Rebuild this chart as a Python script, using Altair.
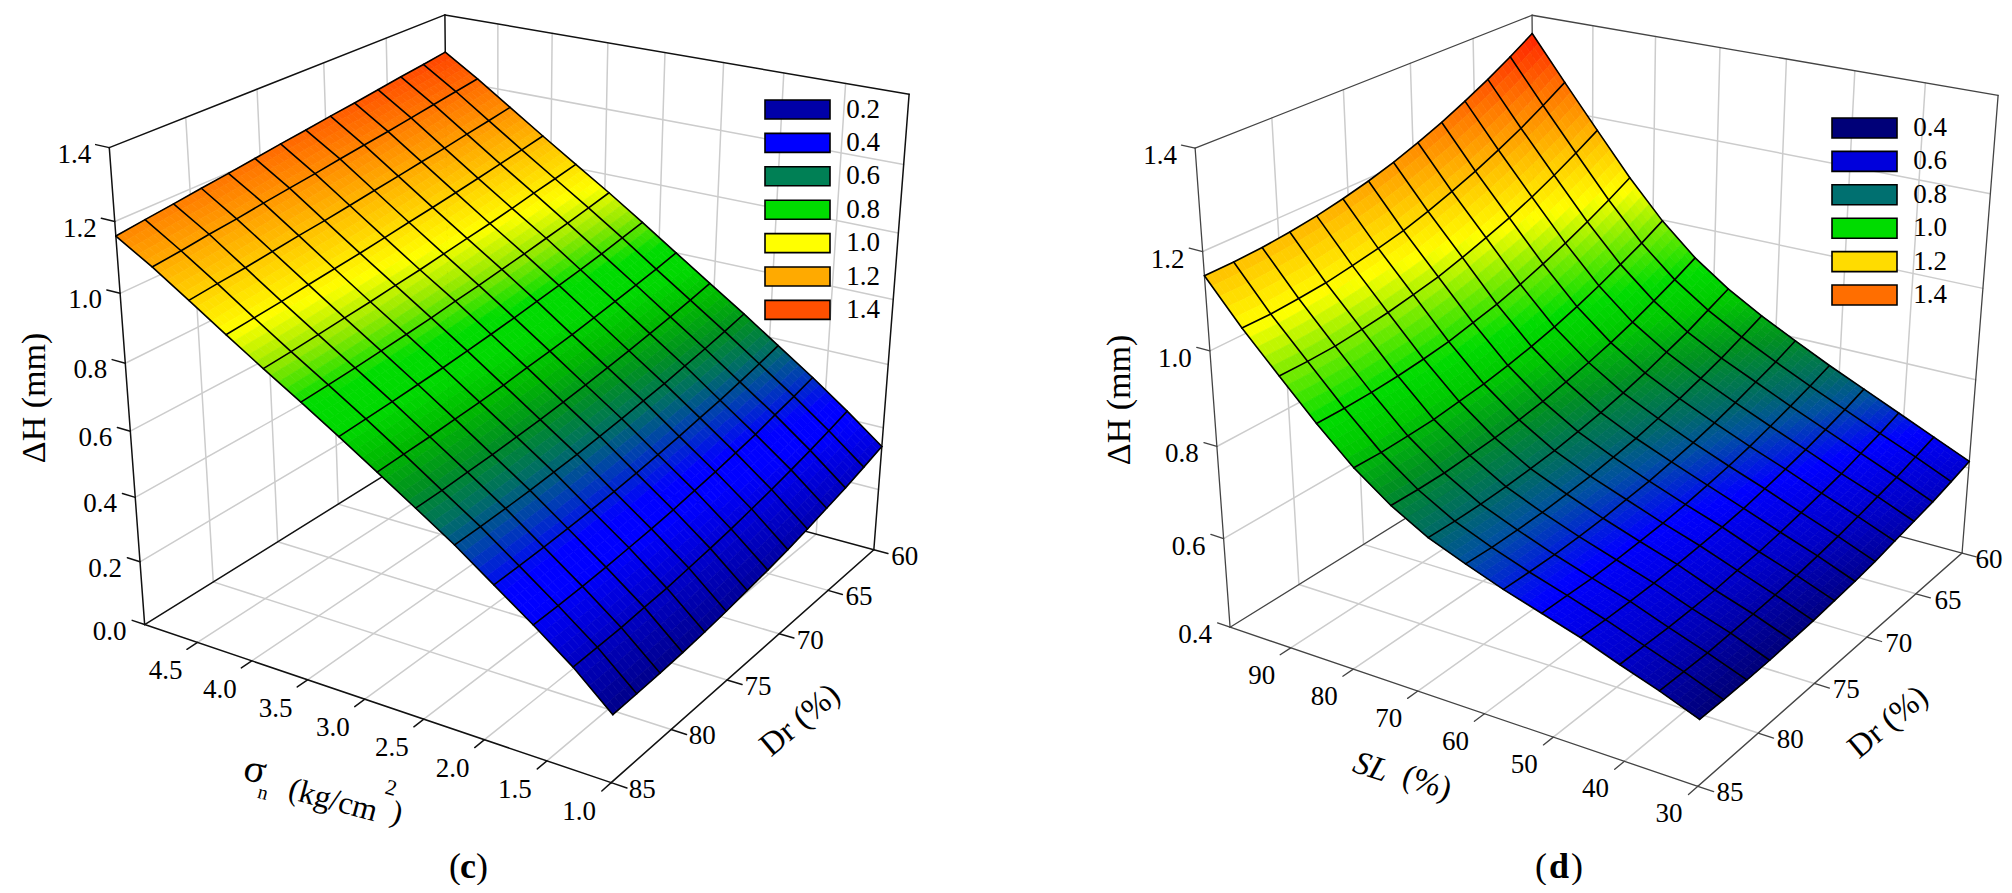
import numpy as np
import altair as alt

# ---------- chart values ----------
SIGMA_TICKS = [4.5, 4.0, 3.5, 3.0, 2.5, 2.0, 1.5, 1.0]
SL_TICKS = [90, 80, 70, 60, 50, 40, 30]
DR_TICKS = [85, 80, 75, 70, 65, 60]
Z_TICKS_C = [0.0, 0.2, 0.4, 0.6, 0.8, 1.0, 1.2, 1.4]
Z_TICKS_D = [0.4, 0.6, 0.8, 1.0, 1.2, 1.4]
LEGEND_C = ["0.2", "0.4", "0.6", "0.8", "1.0", "1.2", "1.4"]
LEGEND_C_COL = ["#0000A8", "#0000FF", "#008055", "#00DC00", "#FFFF00", "#FFAA00", "#FF5000"]
LEGEND_D = ["0.4", "0.6", "0.8", "1.0", "1.2", "1.4"]
LEGEND_D_COL = ["#000078", "#0000DC", "#007070", "#00DC00", "#FFDC00", "#FF6E00"]

# Delta H at the mesh nodes; rows Dr 60 -> 85, columns sigma 5 -> 1
Z_C = [
 [1.285,1.220,1.150,1.080,1.012,.944,.873,.800,.727,.655,.580,.505,.425,.340],
 [1.275,1.210,1.139,1.069,1.000,.931,.860,.786,.713,.640,.564,.488,.407,.320],
 [1.266,1.200,1.129,1.058,.989,.919,.847,.774,.700,.626,.549,.473,.390,.301],
 [1.256,1.190,1.118,1.047,.977,.908,.835,.762,.688,.614,.535,.457,.375,.285],
 [1.246,1.180,1.109,1.037,.966,.897,.825,.751,.676,.602,.524,.445,.361,.269],
 [1.237,1.171,1.099,1.027,.957,.887,.815,.740,.666,.592,.512,.433,.349,.255],
 [1.227,1.162,1.090,1.018,.947,.877,.805,.731,.656,.582,.502,.423,.337,.243],
 [1.218,1.152,1.080,1.008,.937,.869,.796,.723,.648,.574,.493,.413,.328,.233],
 [1.208,1.143,1.071,.999,.929,.859,.788,.714,.640,.566,.485,.405,.320,.223],
 [1.198,1.134,1.063,.991,.920,.851,.780,.707,.634,.560,.479,.399,.312,.215],
 [1.189,1.124,1.054,.983,.913,.844,.774,.702,.628,.554,.474,.393,.308,.209],
 [1.179,1.116,1.045,.974,.905,.837,.768,.696,.624,.550,.470,.389,.303,.205],
 [1.170,1.106,1.038,.967,.898,.831,.763,.692,.619,.547,.467,.386,.301,.202],
 [1.160,1.098,1.030,.960,.892,.826,.758,.688,.617,.545,.465,.385,.300,.200],
]
# rows Dr 60 -> 85, columns SL 100 -> 30
Z_D = [
 [1.360,1.265,1.172,1.080,.998,.930,.876,.832,.793,.755,.720,.685,.650,.615],
 [1.329,1.235,1.144,1.054,.973,.907,.855,.812,.774,.738,.704,.670,.637,.602],
 [1.300,1.207,1.118,1.030,.951,.886,.834,.793,.758,.723,.690,.657,.624,.590],
 [1.274,1.182,1.094,1.008,.930,.866,.817,.777,.742,.709,.677,.644,.614,.581],
 [1.250,1.159,1.073,.988,.911,.849,.800,.762,.728,.696,.666,.634,.604,.572],
 [1.229,1.139,1.055,.970,.894,.834,.786,.749,.716,.685,.656,.625,.595,.563],
 [1.210,1.121,1.038,.954,.880,.821,.773,.737,.706,.676,.647,.617,.588,.556],
 [1.194,1.105,1.023,.942,.868,.809,.763,.728,.697,.668,.641,.610,.582,.551],
 [1.181,1.093,1.012,.930,.858,.800,.754,.720,.691,.662,.636,.606,.577,.546],
 [1.170,1.083,1.002,.922,.851,.793,.748,.715,.685,.658,.632,.601,.574,.543],
 [1.162,1.074,.995,.916,.844,.788,.743,.710,.681,.655,.629,.599,.572,.540],
 [1.156,1.069,.989,.912,.841,.784,.740,.708,.679,.653,.628,.598,.570,.539],
 [1.153,1.065,.987,.910,.839,.783,.739,.707,.679,.654,.628,.599,.571,.539],
 [1.152,1.065,.987,.910,.840,.784,.740,.709,.680,.655,.630,.600,.572,.540],
]
RAMP_C = [(.10,"#000060"),(.20,"#000088"),(.30,"#0000C0"),(.40,"#0000FF"),(.45,"#0000FF"),(.52,"#0040B0"),
          (.58,"#007060"),(.64,"#009020"),(.70,"#00B800"),(.76,"#00D800"),(.82,"#00DC00"),(.89,"#90E800"),
          (.96,"#FFFF00"),(1.03,"#FFD400"),(1.16,"#FF8800"),(1.29,"#FF4000")]
RAMP_D = [(.50,"#000060"),(.54,"#000078"),(.60,"#0000C8"),(.66,"#0000FF"),(.71,"#0050A0"),(.74,"#006868"),
          (.80,"#009020"),(.86,"#00C800"),(.91,"#00DC00"),(.99,"#80EC00"),(1.06,"#FFFF00"),(1.14,"#FFC800"),
          (1.25,"#FF7800"),(1.36,"#FF2000")]

# ---------- layout ----------
PAGE = 8
W, H = 1996, 877
SUB = 5
# box corners in page pixels: (u, v, w) -> (x, y); u along first axis, v along Dr, w up
BOX_C = {(0,1,0):(146,623),(0,1,1):(108,148),(0,0,0):(447,437),(0,0,1):(447,14),
         (1,0,0):(875,548),(1,0,1):(908,95),(1,1,0):(611,784)}
BOX_D = {(0,1,0):(1231,625),(0,1,1):(1194,149),(0,0,0):(1534,440),(0,0,1):(1534,14),
         (1,0,0):(1963,551),(1,0,1):(1997,96),(1,1,0):(1698,788)}


def camera(box):
    rows = []
    for (u, v, w), (x, y) in box.items():
        rows.append([u, v, w, 1, 0, 0, 0, 0, -x*u, -x*v, -x*w, -x])
        rows.append([0, 0, 0, 0, u, v, w, 1, -y*u, -y*v, -y*w, -y])
    return np.linalg.svd(np.array(rows, float))[2][-1].reshape(3, 4)


def proj(M, u, v, w):
    p = M @ np.array([u, v, w, 1.0])
    return [round(float(p[0]/p[2]) - PAGE, 2), round(float(p[1]/p[2]) - PAGE, 2)]


def ramp_color(ramp, z):
    xs = [s[0] for s in ramp]
    ch = []
    for k in (1, 3, 5):
        ch.append(np.interp(z, xs, [int(s[1][k:k+2], 16) for s in ramp]))
    return "#%02x%02x%02x" % tuple(int(round(c)) for c in ch)


def line(pts, c, w):
    return {"type": "Feature", "geometry": {"type": "LineString", "coordinates": pts}, "c": c, "w": w}


polys = [{"type": "Feature", "c": "transparent", "geometry": {"type": "Polygon",
          "coordinates": [[[0, 0], [W, 0], [W, H], [0, H], [0, 0]]]}}]
grid_lines, mesh_lines, rects, ticks, labels, italics, bolds = [], [], [], [], [], [], []


def panel(box, hi, lo, xticks, zlo, zticks, Z, ramp, frame_col, frame_w,
          xoff, droff, zoff):
    M = camera(box)
    Z = np.array(Z)
    fw = lambda z: (z - zlo) / (1.4 - zlo)
    fu = lambda s: (hi - s) / (hi - lo)
    fv = lambda d: (d - 60) / 25.0
    gray, gw = "#cccccc", 1.5
    # walls and floor
    for s in xticks:
        u = fu(s)
        if u < 1:
            grid_lines.append(line([proj(M, u, 0, 0), proj(M, u, 0, 1)], gray, gw))
        grid_lines.append(line([proj(M, u, 0, 0), proj(M, u, 1, 0)], gray, gw))
    for d in DR_TICKS:
        v = fv(d)
        if 0 < v < 1:
            grid_lines.append(line([proj(M, 0, v, 0), proj(M, 0, v, 1)], gray, gw))
            grid_lines.append(line([proj(M, 0, v, 0), proj(M, 1, v, 0)], gray, gw))
    for z in zticks[1:-1]:
        w = fw(z)
        grid_lines.append(line([proj(M, 0, 1, w), proj(M, 0, 0, w), proj(M, 1, 0, w)], gray, gw))
    # frame
    for a, b in [((0,1,0),(0,1,1)), ((0,1,1),(0,0,1)), ((0,0,1),(1,0,1)), ((1,0,1),(1,0,0)), ((0,0,1),(0,0,0)),
                 ((0,1,0),(0,0,0)), ((0,0,0),(1,0,0)), ((0,1,0),(1,1,0)), ((1,1,0),(1,0,0))]:
        grid_lines.append(line([proj(M, *a), proj(M, *b)], frame_col, frame_w))
    # ticks and tick labels
    for s in xticks:
        u = fu(s)
        grid_lines.append(line([proj(M, u, 1, 0), proj(M, u, 1.03, 0)], frame_col, frame_w))
        x, y = proj(M, u, 1, 0)
        ticks.append({"x": x + xoff[0], "y": y + xoff[1], "t": f"{s:.1f}" if hi < 10 else str(s)})
    for d in DR_TICKS:
        v = fv(d)
        grid_lines.append(line([proj(M, 1, v, 0), proj(M, 1.03, v, 0)], frame_col, frame_w))
        x, y = proj(M, 1, v, 0)
        ticks.append({"x": min(x + droff[0], W - 15), "y": y + droff[1], "t": str(d)})
    for z in zticks:
        w = fw(z)
        grid_lines.append(line([proj(M, 0, 1, w), proj(M, -.03, 1, w)], frame_col, frame_w))
        x, y = proj(M, 0, 1, w)
        ticks.append({"x": x + zoff[0], "y": y + zoff[1], "t": f"{z:.1f}"})
    # surface
    n = Z.shape[0] - 1
    for i in range(n):
        for j in range(n):
            for a in range(SUB):
                for b in range(SUB):
                    corners = []
                    zs = []
                    for da, db in [(0,0),(0,1),(1,1),(1,0)]:
                        p, q = (a+da)/SUB, (b+db)/SUB
                        z = (Z[i,j]*(1-p)*(1-q) + Z[i,j+1]*(1-p)*q + Z[i+1,j]*p*(1-q) + Z[i+1,j+1]*p*q)
                        zs.append(z)
                        corners.append(proj(M, (j+q)/n, (i+p)/n, fw(z)))
                    corners.append(corners[0])
                    polys.append({"type": "Feature", "c": ramp_color(ramp, float(np.mean(zs))),
                                  "geometry": {"type": "Polygon", "coordinates": [corners]}})
    for i in range(n+1):
        mesh_lines.append(line([proj(M, j/n, i/n, fw(Z[i,j])) for j in range(n+1)], "#000000", 1.6))
        mesh_lines.append(line([proj(M, i/n, k/n, fw(Z[k,i])) for k in range(n+1)], "#000000", 1.6))


panel(BOX_C, 5.0, 1.0, SIGMA_TICKS, 0.0, Z_TICKS_C, Z_C, RAMP_C, "#111111", 1.5, (-32, 29), (31, 7), (-35, 7))
panel(BOX_D, 100, 30, SL_TICKS, 0.4, Z_TICKS_D, Z_D, RAMP_D, "#444444", 1.3, (-29, 28), (32, 7), (-35, 8))

# legends
for names, cols, x0, y0, step, bh, lx in [(LEGEND_C, LEGEND_C_COL, 765, 100, 33.4, 19, 846),
                                          (LEGEND_D, LEGEND_D_COL, 1832, 118, 33.4, 20, 1913)]:
    for k, (nm, cl) in enumerate(zip(names, cols)):
        y = y0 + k*step
        rects.append({"x": x0-PAGE, "x2": x0+65-PAGE, "y": y-PAGE, "y2": y+bh-PAGE, "c": cl})
        ticks.append({"x": lx+17-PAGE, "y": y+bh/2-PAGE, "t": nm})

# axis titles
for x, y, t, a, s in [(35, 398, "\u0394H (mm)", 270, 34), (1120, 400, "\u0394H (mm)", 270, 34),
                      (800, 720, "Dr (%)", 320, 33), (1888, 722, "Dr (%)", 320, 33),
                      (255, 770, "\u03c3", 15, 40), (263, 793, "n", 15, 20), (333, 800, "(kg/cm", 15, 32),
                      (391, 788, "2", 15, 22), (397, 813, ")", 15, 32),
                      (1427, 783, "(%)", 18, 33)]:
    labels.append({"x": x-PAGE, "y": y-PAGE, "t": t, "a": a, "s": s})
italics.append({"x": 1371-PAGE, "y": 767-PAGE, "t": "SL", "a": 18, "s": 33})
for x, t in [(455, "("), (482, ")"), (1541, "("), (1577, ")")]:
    labels.append({"x": x-PAGE, "y": 867-PAGE, "t": t, "a": 0, "s": 36})
for x, t in [(468, "c"), (1559, "d")]:
    bolds.append({"x": x-PAGE, "y": 867-PAGE, "t": t, "a": 0, "s": 36})

PROJ = dict(type="identity", scale=1, translate=[0, 0])
X = alt.X("x:Q", scale=None, axis=None)
Y = alt.Y("y:Q", scale=None, axis=None)


def geo_lines(data):
    return (alt.Chart(alt.Data(values=data)).mark_geoshape(filled=False, strokeCap="round")
            .encode(stroke=alt.Stroke("c:N", scale=None), strokeWidth=alt.StrokeWidth("w:Q", scale=None))
            .project(**PROJ))


surface = (alt.Chart(alt.Data(values=polys)).mark_geoshape(strokeWidth=0.7)
           .encode(fill=alt.Fill("c:N", scale=None), stroke=alt.Stroke("c:N", scale=None))
           .project(**PROJ))
box_layer = (alt.Chart(alt.Data(values=rects)).mark_rect(stroke="#000000", strokeWidth=1.6)
             .encode(x=X, x2="x2:Q", y=Y, y2="y2:Q", fill=alt.Fill("c:N", scale=None)))


def text_layer(data, **kw):
    return (alt.Chart(alt.Data(values=data))
            .mark_text(font="Liberation Serif", color="#000000", align="center", baseline="middle", **kw)
            .encode(x=X, y=Y, text="t:N", angle=alt.Angle("a:Q", scale=None), size=alt.Size("s:Q", scale=None)))


tick_layer = (alt.Chart(alt.Data(values=ticks))
              .mark_text(font="Liberation Serif", fontSize=27, color="#000000", align="center", baseline="middle")
              .encode(x=X, y=Y, text="t:N"))

chart = alt.layer(
    geo_lines(grid_lines), surface, geo_lines(mesh_lines), box_layer, tick_layer,
    text_layer(labels), text_layer(italics, fontStyle="italic"), text_layer(bolds, fontWeight="bold"),
).properties(width=W, height=H, padding=0, autosize=alt.AutoSizeParams(type="none")
).configure_view(stroke=None)

chart.save("out.html", embed_options={"renderer": "svg", "actions": False})
